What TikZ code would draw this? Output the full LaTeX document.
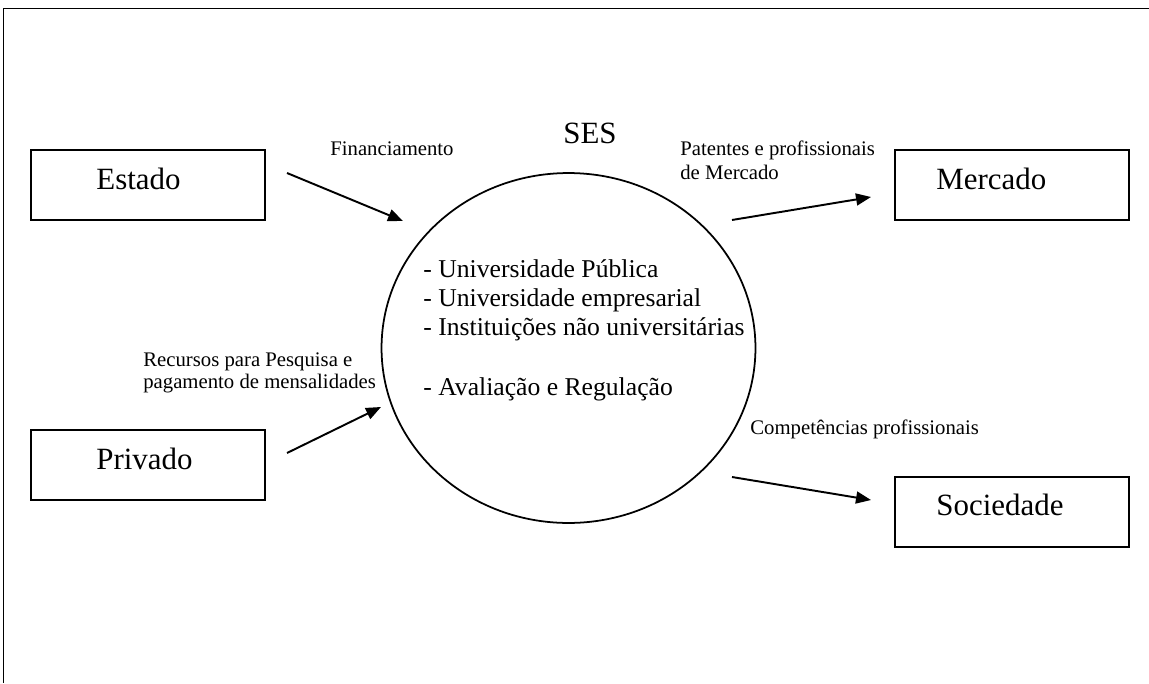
\documentclass[tikz,border=0pt]{standalone}
\usepackage{fontspec}
\setmainfont{Liberation Serif}
\usetikzlibrary{arrows.meta,positioning,shapes.geometric}

\tikzset{
    agent/.style={draw, line width=1.1pt, minimum width=4.68cm, minimum height=1.4cm, inner sep=0pt},
    agenttext/.style={anchor=base west, inner sep=0pt, font=\fontsize{17.6}{20}\selectfont},
    flow/.style={-{Triangle[length=0.3cm,width=0.24cm]}, line width=1.1pt},
    flowlabel/.style={anchor=base west, inner sep=0pt, font=\fontsize{11.8}{13}\selectfont},
    listitem/.style={anchor=base west, inner sep=0pt, font=\fontsize{14.6}{17}\selectfont},
}

\begin{document}
\begin{tikzpicture}[x=0.02cm, y=-0.02cm]
    \useasboundingbox (0,0) rectangle (1149,683);

    % Frame
    \draw[line width=1.1pt] (1149,8.5) -- (3.5,8.5) -- (3.5,683);

    % === Agents ===
    \node[agent] (estado) at (148,185) {};
    \node[agenttext] (estadoText) at ([shift={(66,4)}]estado.west) {Estado};

    \node[agent] (privado) at (148,465) {};
    \node[agenttext] (privadoText) at ([shift={(66,4)}]privado.west) {Privado};

    \node[agent] (mercado) at (1012,185) {};
    \node[agenttext] (mercadoText) at ([shift={(42,4)}]mercado.west) {Mercado};

    \node[agent] (sociedade) at (1012,512) {};
    \node[agenttext] (sociedadeText) at ([shift={(42,3)}]sociedade.west) {Sociedade};

    % === SES ===
    \node[draw, ellipse, line width=1pt, minimum width=7.48cm, minimum height=7cm, inner sep=0pt] (ses) at (568.5,348) {};
    \node[agenttext] (sesTitle) at (563,143) {SES};

    % Contents of the SES
    \node[listitem] (itemA) at (423,277) {- Universidade Pública};
    \node[listitem] (itemB) at (423,306) {- Universidade empresarial};
    \node[listitem] (itemC) at (423,335) {- Instituições não universitárias};
    \node[listitem] (itemD) at (423,395) {- Avaliação e Regulação};

    % === Flows ===
    \coordinate (estadoOut) at (287,173);
    \coordinate (sesInA) at (403,221);
    \coordinate (privadoOut) at (287,453);
    \coordinate (sesInB) at (381,407);
    \coordinate (sesOutA) at (732,220);
    \coordinate (mercadoIn) at (871,197);
    \coordinate (sesOutB) at (732,477);
    \coordinate (sociedadeIn) at (871,500);

    \draw[flow] (estadoOut) -- (sesInA);
    \draw[flow] (privadoOut) -- (sesInB);
    \draw[flow] (sesOutA) -- (mercadoIn);
    \draw[flow] (sesOutB) -- (sociedadeIn);

    % Flow labels
    \node[flowlabel] (finLabel) at (330,155) {Financiamento};
    \node[flowlabel] (recLabelA) at (143,366) {Recursos para Pesquisa e};
    \node[flowlabel] (recLabelB) at (143,388) {pagamento de mensalidades};
    \node[flowlabel] (patLabelA) at (680,155) {Patentes e profissionais};
    \node[flowlabel] (patLabelB) at (680,179) {de Mercado};
    \node[flowlabel] (compLabel) at (750,434) {Competências profissionais};
\end{tikzpicture}
\end{document}
